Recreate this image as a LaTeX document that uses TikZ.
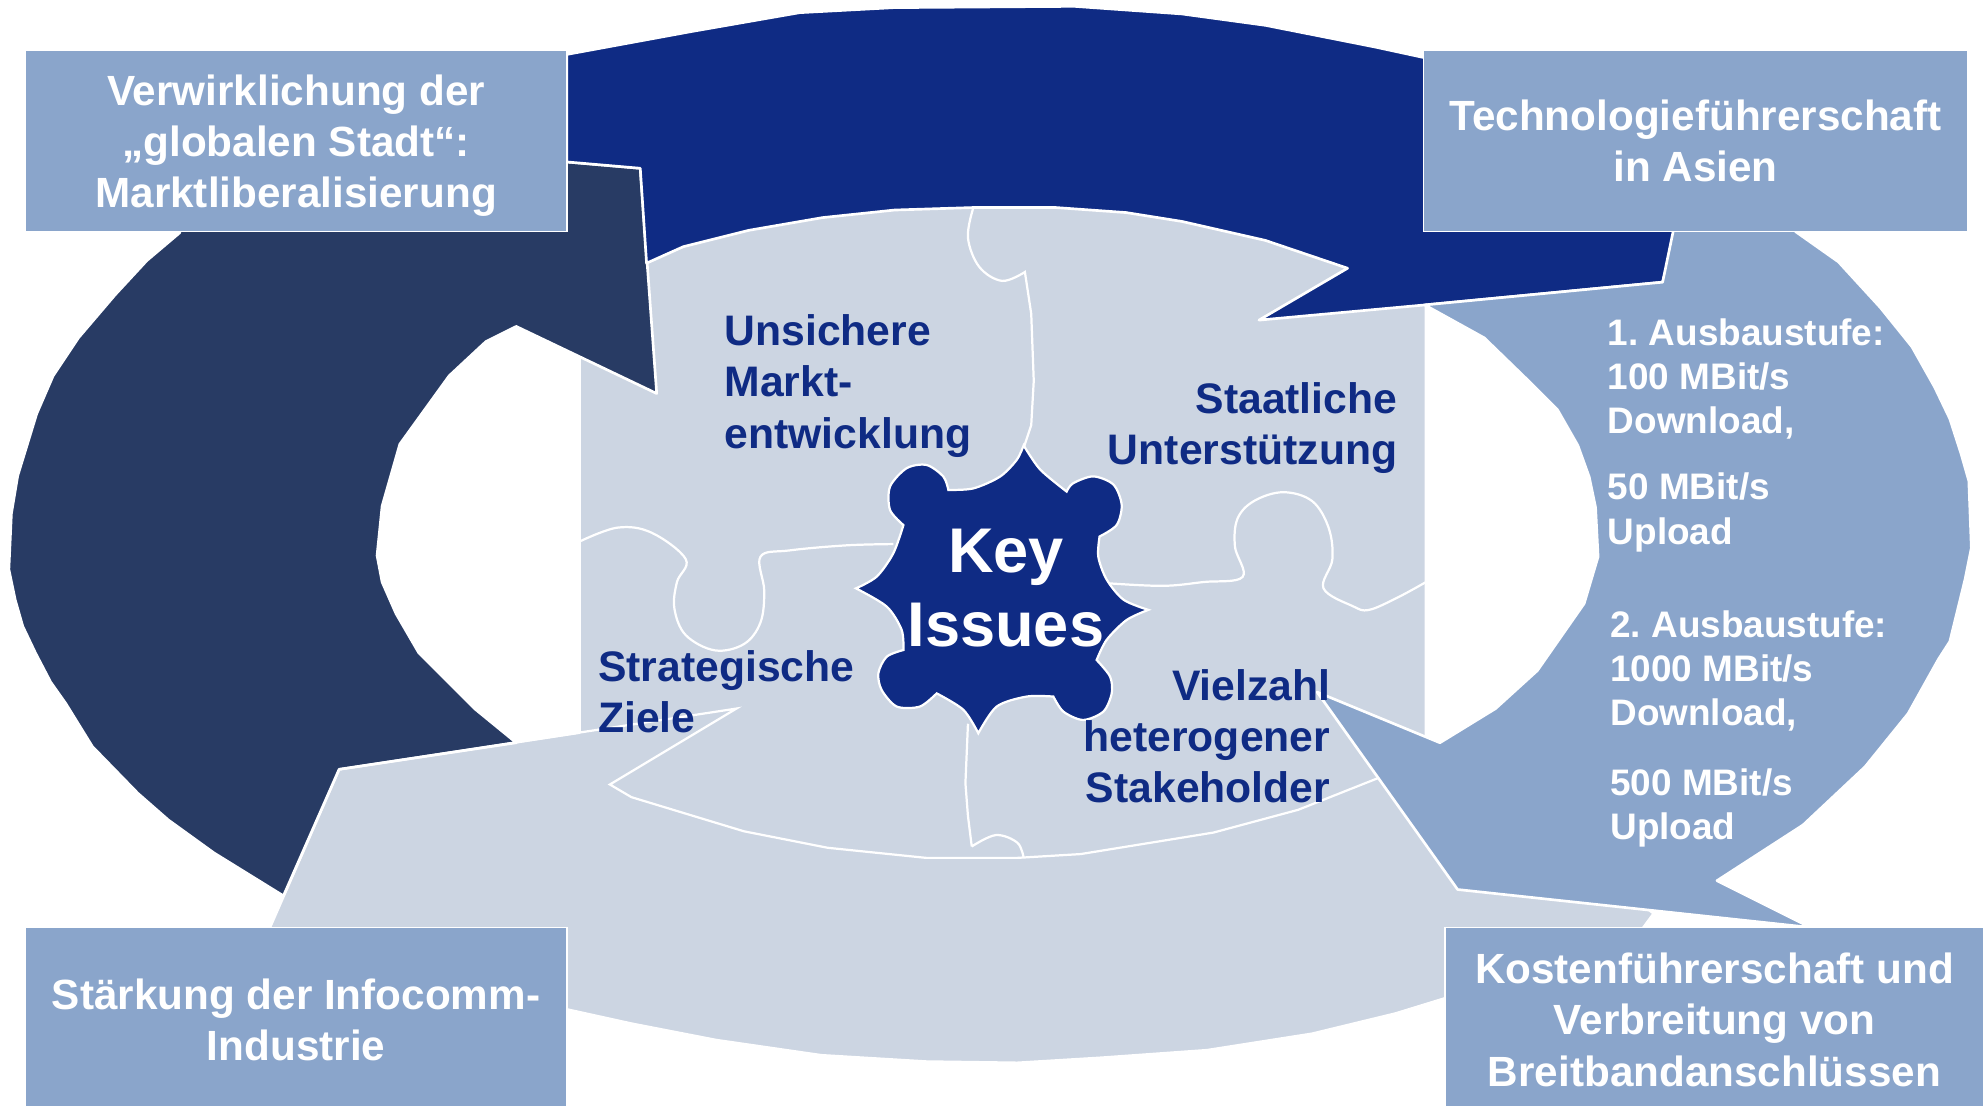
\documentclass[tikz,border=0pt]{standalone}
\usepackage{fontspec}
\setmainfont{Liberation Sans}
\frenchspacing
\definecolor{NavyClr}{rgb}{0.059,0.169,0.518}
\definecolor{SlateClr}{rgb}{0.157,0.231,0.392}
\definecolor{MidClr}{rgb}{0.541,0.647,0.796}
\definecolor{LightClr}{rgb}{0.800,0.835,0.886}

\begin{document}
\begin{tikzpicture}[x=0.1mm,y=-0.1mm]
\tikzset{
  arrowpart/.style={draw=white,line width=0.6pt,line join=round},
  seam/.style={draw=white,line width=0.5pt},
  goal/.style={fill=MidClr,draw=white,line width=0.4pt,text=white,align=center,inner sep=0pt,
    font=\fontsize{9.5}{11.5}\selectfont\bfseries},
  issue/.style={text=NavyClr,inner sep=0pt,font=\fontsize{9.6}{11.5}\selectfont\bfseries},
  stage/.style={text=white,inner sep=0pt,align=left,anchor=north west,
    font=\fontsize{8.3}{9.9}\selectfont\bfseries}
}
\useasboundingbox (0,0) rectangle (1568,874);

\fill[LightClr,arrowpart] (458,150) -- (1127,150) -- (1127,588) -- (1150,600) -- (1307,722)
  -- (1290,745) -- (1142,789) -- (1103,801) -- (1037,817) -- (954,830) -- (870,836)
  -- (804,840) -- (732,839) -- (649,834) -- (566,822) -- (499,809) -- (449,798)
  -- (205,752) -- (268,608) -- (458,579) -- cycle;

\fill[SlateClr,arrowpart] (142,150) -- (448,128) -- (506,133) -- (519,311) -- (408,258)
  -- (384,270) -- (355,297) -- (342,315) -- (316,351) -- (302,400) -- (298,439)
  -- (302,460) -- (313,485) -- (331,516) -- (360,545) -- (375,560) -- (408,587)
  -- (268,608) -- (224,708) -- (169,674) -- (133,648) -- (109,627) -- (73,590)
  -- (52,556) -- (40,539) -- (28,516) -- (18,495) -- (12,474) -- (7,450) -- (9,406)
  -- (14,376) -- (29,327) -- (42,297) -- (62,267) -- (91,233) -- (116,206) -- (142,184) -- cycle;

\fill[NavyClr,arrowpart] (448,43) -- (546,25) -- (632,10) -- (707,6) -- (849,5) -- (934,11)
  -- (1000,20) -- (1086,37) -- (1123,45) -- (1250,70) -- (1330,100) -- (1325,183)
  -- (1314,223) -- (1126,241) -- (995,253) -- (1065,212) -- (1000,190) -- (934,175)
  -- (890,168) -- (834,164) -- (770,164) -- (707,166) -- (650,172) -- (592,182)
  -- (540,195) -- (511,208) -- (506,133) -- (448,128) -- cycle;

\fill[MidClr,arrowpart] (1325,170) -- (1419,170) -- (1419,183) -- (1453,207) -- (1486,243)
  -- (1511,274) -- (1529,306) -- (1541,331) -- (1550,359) -- (1556,380) -- (1558,433)
  -- (1553,458) -- (1541,507) -- (1532,521) -- (1508,564) -- (1474,606) -- (1425,652)
  -- (1357,696) -- (1431,733) -- (1152,703) -- (1041,547) -- (1138,587) -- (1182,560)
  -- (1215,530) -- (1252,477) -- (1263,440) -- (1261,401) -- (1256,377) -- (1247,352)
  -- (1231,324) -- (1206,299) -- (1173,267) -- (1126,241) -- (1314,223) -- cycle;

\draw[seam] (268,608) -- (582,560) -- (482,620) -- (499,630) -- (555,647) -- (588,657)
  -- (654,670) -- (732,678) -- (804,678) -- (854,675) -- (959,658) -- (1026,640) -- (1089,615);

\draw[seam] plot[smooth,tension=0.6] coordinates {(769,165) (765,188) (774,211) (792,222) (810,215)}
  -- (815,248) -- (817,301) -- (815,336) -- (809,354);
\draw[seam] plot[smooth,tension=0.6] coordinates {(458,428) (488,417) (515,421) (542,442)
  (535,460) (533,481) (542,502) (565,514) (588,509) (601,492) (604,467) (601,440)
  (624,435) (669,431) (706,430)};
\draw[seam] plot[smooth,tension=0.6] coordinates {(876,461) (919,463) (951,460) (982,456)
  (976,432) (978,410) (991,396) (1014,389) (1037,396) (1050,417) (1053,442) (1046,465)
  (1069,479) (1082,482) (1105,472) (1127,460)};
\draw[seam] (765,572) -- (763,619) -- (765,645) -- (768,669)
  plot[smooth,tension=0.6] coordinates {(768,669) (787,660) (804,666) (809,678)};

\fill[NavyClr,draw=white,line width=0.5pt]
  plot[smooth] coordinates {(809,352) (822,371) (843,388.5)}
  -- plot[smooth] coordinates {(843,388.5) (848,382) (864,376.5) (880,383) (886.5,399) (882.5,415) (869,424)}
  -- plot[smooth] coordinates {(869,424) (868,440) (874.6,458) (888,474) (907.5,482)}
  -- plot[smooth] coordinates {(907.5,482) (890.4,490) (874.6,505.7) (866.7,521.6)}
  -- plot[smooth] coordinates {(866.7,521.6) (877.3,534.7) (878.6,548) (872,562.4) (856,569) (840.4,562.4) (832.5,550.5)}
  -- plot[smooth] coordinates {(832.5,550.5) (811.4,550.5) (787.7,558.4) (773.2,579.5)}
  -- plot[smooth] coordinates {(773.2,579.5) (761.4,561) (740.3,548)}
  -- plot[smooth] coordinates {(740.3,548) (727,558.4) (708.7,558.4) (696.8,545.3) (694.2,532) (700.8,519) (714,513.7)}
  -- plot[smooth] coordinates {(714,513.7) (712.6,497.8) (700.8,479.4) (676.5,465)}
  -- plot[smooth] coordinates {(676.5,465) (692.9,455.7) (706,437.3) (714,415)}
  -- plot[smooth] coordinates {(714,415) (703.4,403) (703.4,384.6) (716.6,370) (732.4,367.5) (745.6,376.7) (749.5,387.2)}
  -- plot[smooth] coordinates {(749.5,387.2) (769.3,386) (790.3,376.7) (803.5,363.5) (809,352)}
  -- cycle;

\node[text=white,align=center,inner sep=0pt,font=\fontsize{14.2}{16.7}\selectfont\bfseries]
  (key) at (795,465) {Key\\Issues};

\node[issue,align=left,anchor=west] (markt) at (572,305) {Unsichere\\Markt-\\entwicklung};
\node[issue,align=right,anchor=east] (staat) at (1105,338) {Staatliche\\Unterstützung};
\node[issue,align=left,anchor=west] (ziele) at (472,547) {Strategische\\Ziele};
\node[issue,align=right,anchor=east] (vielzahl) at (1052,582) {Vielzahl\\heterogener\\Stakeholder};

\node[stage] (ausbau1) at (1270,251) {1. Ausbaustufe:\\100 MBit/s\\Download,\\[5.1pt]50 MBit/s\\Upload};
\node[stage] (ausbau2) at (1272,482) {2. Ausbaustufe:\\1000 MBit/s\\Download,\\[5.8pt]500 MBit/s\\Upload};

\node[goal,minimum width=42.8mm,minimum height=14.3mm,text depth=0pt] (stadt) at (234,111.5)
  {Verwirklichung der\\„globalen Stadt“:\\Marktliberalisierung};
\node[goal,minimum width=43mm,minimum height=14.3mm] (asien) at (1340,111.5)
  {Technologieführerschaft\\in Asien};
\node[goal,minimum width=42.8mm,minimum height=14.6mm] (infocomm) at (234,806)
  {Stärkung der Infocomm-\\Industrie};
\node[goal,minimum width=42.6mm,minimum height=14.6mm] (kosten) at (1355,806)
  {Kostenführerschaft und\\Verbreitung von\\Breitbandanschlüssen};
\end{tikzpicture}
\end{document}
